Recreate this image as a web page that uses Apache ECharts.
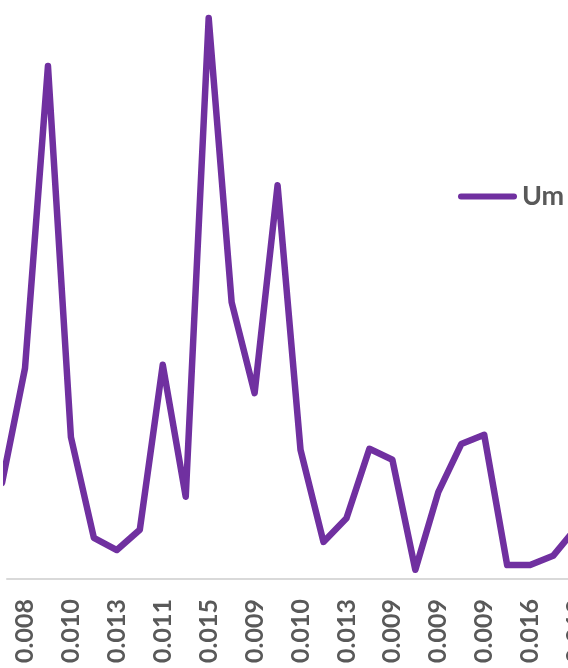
<!DOCTYPE html>
<html>
<head>
<meta charset="utf-8">
<script src="https://cdn.jsdelivr.net/npm/echarts@6/dist/echarts.min.js"></script>
<style>
html,body{margin:0;padding:0;background:#fff;overflow:hidden;width:568px;height:668px;}
#chart{width:620px;height:668px;}
</style>
</head>
<body>
<div id="chart"></div>
<script>
// Series values (one per category, in order)
const seriesName = "Um";
const umValues = [16.6, 36.4, 88.6, 24.5, 7.1, 5.0, 8.5, 37.0, 14.2, 96.9, 47.8, 32.1, 68.0,
                  22.3, 6.4, 10.5, 22.5, 20.6, 1.6, 15.0, 23.3, 24.9, 2.4, 2.4, 4.0, 8.8];
// Tick labels shown on every other category (starting at category 1)
const tickLabels = ["0.008", "0.010", "0.013", "0.011", "0.015", "0.009", "0.010",
                    "0.013", "0.009", "0.009", "0.009", "0.016", "0.010"];
const labelStart = 1;
const labelStep = 2;

const labelPositions = tickLabels.map((_, k) => labelStart + k * labelStep);
const lineData = umValues.map((v, i) => [i, v]);

const chart = echarts.init(document.getElementById('chart'), null, {renderer: 'canvas'});
chart.setOption({
  animation: false,
  backgroundColor: '#ffffff',
  grid: {left: 7, right: 0, top: 0, bottom: 89, containLabel: false},
  legend: {
    show: true,
    left: 453,
    top: 178,
    itemWidth: 59,
    itemHeight: 7,
    itemGap: 10,
    icon: 'path://M3,0 L56,0 A3,3 0 0 1 56,6 L3,6 A3,3 0 0 1 3,0 Z',
    data: [seriesName],
    textStyle: {fontFamily: 'Lato', fontWeight: 'bold', fontSize: 27, color: '#595959'}
  },
  xAxis: {
    type: 'value',
    min: 0.216,
    max: 26.914,
    splitLine: {show: false},
    axisTick: {show: false},
    axisLine: {show: true, onZero: true, lineStyle: {color: '#d9d9d9', width: 2}},
    axisLabel: {
      customValues: labelPositions,
      rotate: 90,
      margin: 20,
      fontFamily: 'Lato',
      fontWeight: 'bold',
      fontSize: 25,
      color: '#595959',
      formatter: function (v) {
        const k = Math.round((v - labelStart) / labelStep);
        return tickLabels[k] !== undefined ? tickLabels[k] : '';
      }
    }
  },
  yAxis: {
    type: 'value',
    min: 0,
    max: 100,
    show: false,
    splitLine: {show: false}
  },
  series: [{
    name: seriesName,
    type: 'line',
    data: lineData,
    symbol: 'none',
    showSymbol: false,
    clip: true,
    lineStyle: {color: '#7030A0', width: 6.5, cap: 'round', join: 'round'},
    itemStyle: {color: '#7030A0'}
  }]
});
</script>
</body>
</html>
